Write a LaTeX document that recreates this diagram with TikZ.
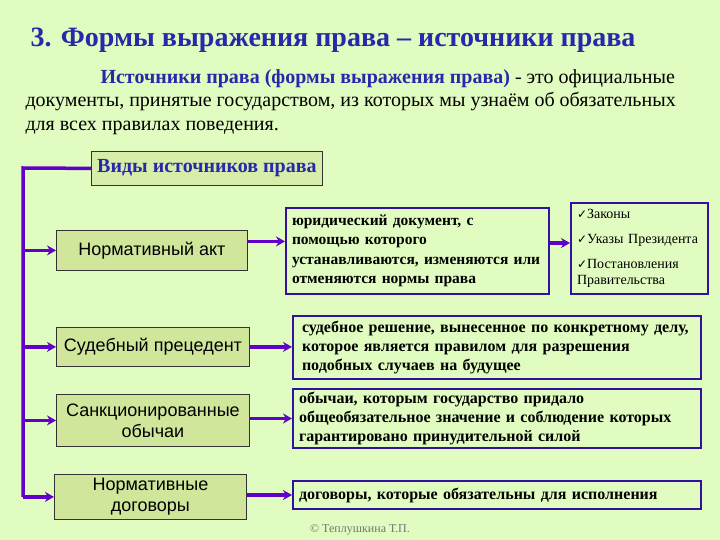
\documentclass[tikz,border=0pt]{standalone}
\usepackage{fontspec}
\setmainfont{Liberation Serif}
\setsansfont{Liberation Sans}
\newfontfamily\tickfont{DejaVu Sans}
\usetikzlibrary{arrows.meta}

\definecolor{bgcol}{RGB}{224,252,192}
\definecolor{boxcol}{RGB}{208,230,154}
\definecolor{headcol}{RGB}{214,238,170}
\definecolor{linecol}{RGB}{96,0,200}
\definecolor{framecol}{RGB}{50,16,160}
\definecolor{titlecol}{RGB}{40,40,170}

\newcommand{\tick}{{\tickfont\fontsize{12}{12}\selectfont ✓}}

\begin{document}
\begin{tikzpicture}[x=1pt,y=-1pt,
  kind/.style={draw=black!80, fill=boxcol, line width=0.8pt, anchor=north west,
    inner sep=0pt, align=center, font=\sffamily\fontsize{18}{21}\selectfont},
  note/.style={draw=framecol, line width=2pt, anchor=north west, inner xsep=9pt,
    inner ysep=0pt, align=left, font=\bfseries\fontsize{16}{19}\selectfont},
  link/.style={draw=linecol, line width=3.5pt, -{Stealth[length=9pt,width=10pt]}},
  trunkline/.style={draw=linecol, line width=3.5pt},
]
   \fill[bgcol] (0,0) rectangle (720,540);
   \useasboundingbox (0,0) rectangle (720,540);

   % heading and lead text
   \node[anchor=base west, text=titlecol, font=\bfseries\fontsize{28}{32}\selectfont]
      (title) at (27,47) {3. Формы выражения права – источники права};
   \node[anchor=base west, font=\fontsize{20}{24}\selectfont] (lead1) at (97,84)
      {\textcolor{titlecol}{\bfseries Источники права (формы выражения права)} - это официальные};
   \node[anchor=base west, font=\fontsize{20}{24}\selectfont] (lead2) at (22,107)
      {документы, принятые государством, из которых мы узнаём об обязательных};
   \node[anchor=base west, font=\fontsize{20}{24}\selectfont] (lead3) at (22,131)
      {для всех правилах поведения.};

   % kinds of sources
   \node[kind, fill=headcol, minimum width=231pt, minimum height=34pt, text=titlecol,
      font=\bfseries\fontsize{20}{22}\selectfont] (kinds) at (91,151) {Виды источников права};
   \node[kind, minimum width=191pt, minimum height=40pt] (act) at (56,230) {Нормативный акт};
   \node[kind, minimum width=193pt, minimum height=39pt] (prec) at (56,327) {Судебный прецедент};
   \node[kind, minimum width=193pt, minimum height=52pt] (custom) at (56,394) {Санкционированные\\обычаи};
   \node[kind, minimum width=192pt, minimum height=45pt] (treaty) at (54,474) {Нормативные\\договоры};

   % definitions
   \node[note, inner xsep=6pt, text width=251pt, minimum height=86pt,
      font=\bfseries\fontsize{15.5}{19.5}\selectfont] (def1) at (285,207)
      {юридический документ, с\\помощью которого\\устанавливаются, изменяются или\\отменяются нормы права};
   \node[note, inner xsep=6pt, text width=125pt, minimum height=91pt,
      font=\fontsize{14}{16}\selectfont] (list) at (570,202)
      {\tick Законы\\[9pt]\tick Указы Президента\\[9pt]\tick Постановления\\Правительства};
   \node[note, text width=390pt, minimum height=63pt] (def2) at (292,315)
      {судебное решение, вынесенное по конкретному делу,\\которое является правилом для разрешения\\подобных случаев на будущее};
   \node[note, inner xsep=6pt, text width=396pt, minimum height=59pt] (def3) at (292,388)
      {обычаи, которым государство придало\\общеобязательное значение и соблюдение которых\\гарантировано принудительной силой};
   \node[note, inner xsep=6pt, text width=396pt, minimum height=28pt] (def4) at (292,480)
      {договоры, которые обязательны для исполнения};

   \node[text=black!55, font=\fontsize{12}{14}\selectfont] (copy) at (360,530) {© Теплушкина Т.П.};

   % connectors
   \coordinate (top) at (23,168);
   \coordinate (bottom) at (23,497);
   \draw[trunkline] (kinds.west) -- (top) -- (bottom);
   \foreach \src in {act, prec, custom, treaty}
      \draw[link] (top |- \src.west) -- (\src.west);

   \draw[link] ([yshift=9pt]act.east) -- ([yshift=9pt]act.east -| def1.west);
   \draw[link] ([yshift=8pt]def1.east) -- ([yshift=8pt]def1.east -| list.west);
   \draw[link] (prec.east) -- (prec.east -| def2.west);
   \draw[link] (def3.west -| custom.east) -- (def3.west);
   \draw[link] (def4.west -| treaty.east) -- (def4.west);
\end{tikzpicture}
\end{document}
